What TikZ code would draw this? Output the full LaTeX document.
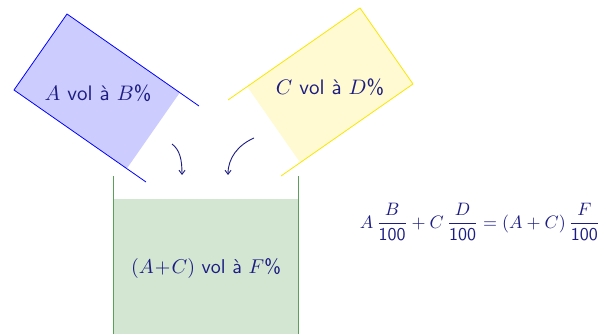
\documentclass[tikz,border=0pt]{standalone}
\usepackage{graphicx}
\usepackage{amsmath}
\usetikzlibrary{arrows.meta}
\definecolor{txt}{RGB}{28,28,130}
\definecolor{beakerline}{RGB}{90,160,90}
\definecolor{beakerfill}{RGB}{210,230,210}
\definecolor{yfill}{RGB}{255,250,210}
\definecolor{yline}{RGB}{250,230,0}
\newcommand{\lblbox}[2][2.1]{\scalebox{#1}{\sffamily #2}}
\begin{document}
\begin{tikzpicture}[x=1pt,y=-1pt,
  lbl/.style={text=txt,inner sep=0pt},
  pour/.style={draw=txt,line width=0.9pt,-{Straight Barb[length=4pt,width=6pt]}}]
\useasboundingbox (0,0) rectangle (614,334);
% left container
\fill[blue!20] (179.8,92.6) -- (67,14) -- (14,90) -- (126.8,168.6) -- cycle;
\draw[blue,line width=0.8pt] (199,106) -- (67,14) -- (14,90) -- (146,182);
% right container
\fill[yfill] (247.2,86.6) -- (360,8) -- (413,84) -- (300.2,162.6) -- cycle;
\draw[yline,line width=0.8pt] (228,100) -- (360,8) -- (413,84) -- (281,176);
% beaker
\fill[beakerfill] (113,199) rectangle (298,336);
\draw[beakerline,line width=0.8pt] (113,176) -- (113,336);
\draw[beakerline,line width=0.8pt] (298,176) -- (298,336);
% labels
\node[lbl] (la) at (98,93) {\lblbox{$A$ vol à $B$\%}};
\node[lbl] (lc) at (330,87) {\lblbox{$C$ vol à $D$\%}};
\node[lbl] (lm) at (206,269) {\lblbox[2.0]{$(A\!+\!C)$ vol à $F$\%}};
\node[lbl] (eq) at (480,222) {\lblbox[1.8]{$A\,\dfrac{B}{\mathsf{100}}+C\,\dfrac{D}{\mathsf{100}}=(A+C)\,\dfrac{F}{\mathsf{100}}$}};
% arrows
\coordinate (a1) at (172,144); \coordinate (a2) at (182,175);
\coordinate (b1) at (254,138); \coordinate (b2) at (228,175);
\draw[pour] (a1) .. controls (180,150) and (182,160) .. (a2);
\draw[pour] (b1) .. controls (238,145) and (228,158) .. (b2);
\end{tikzpicture}
\end{document}
